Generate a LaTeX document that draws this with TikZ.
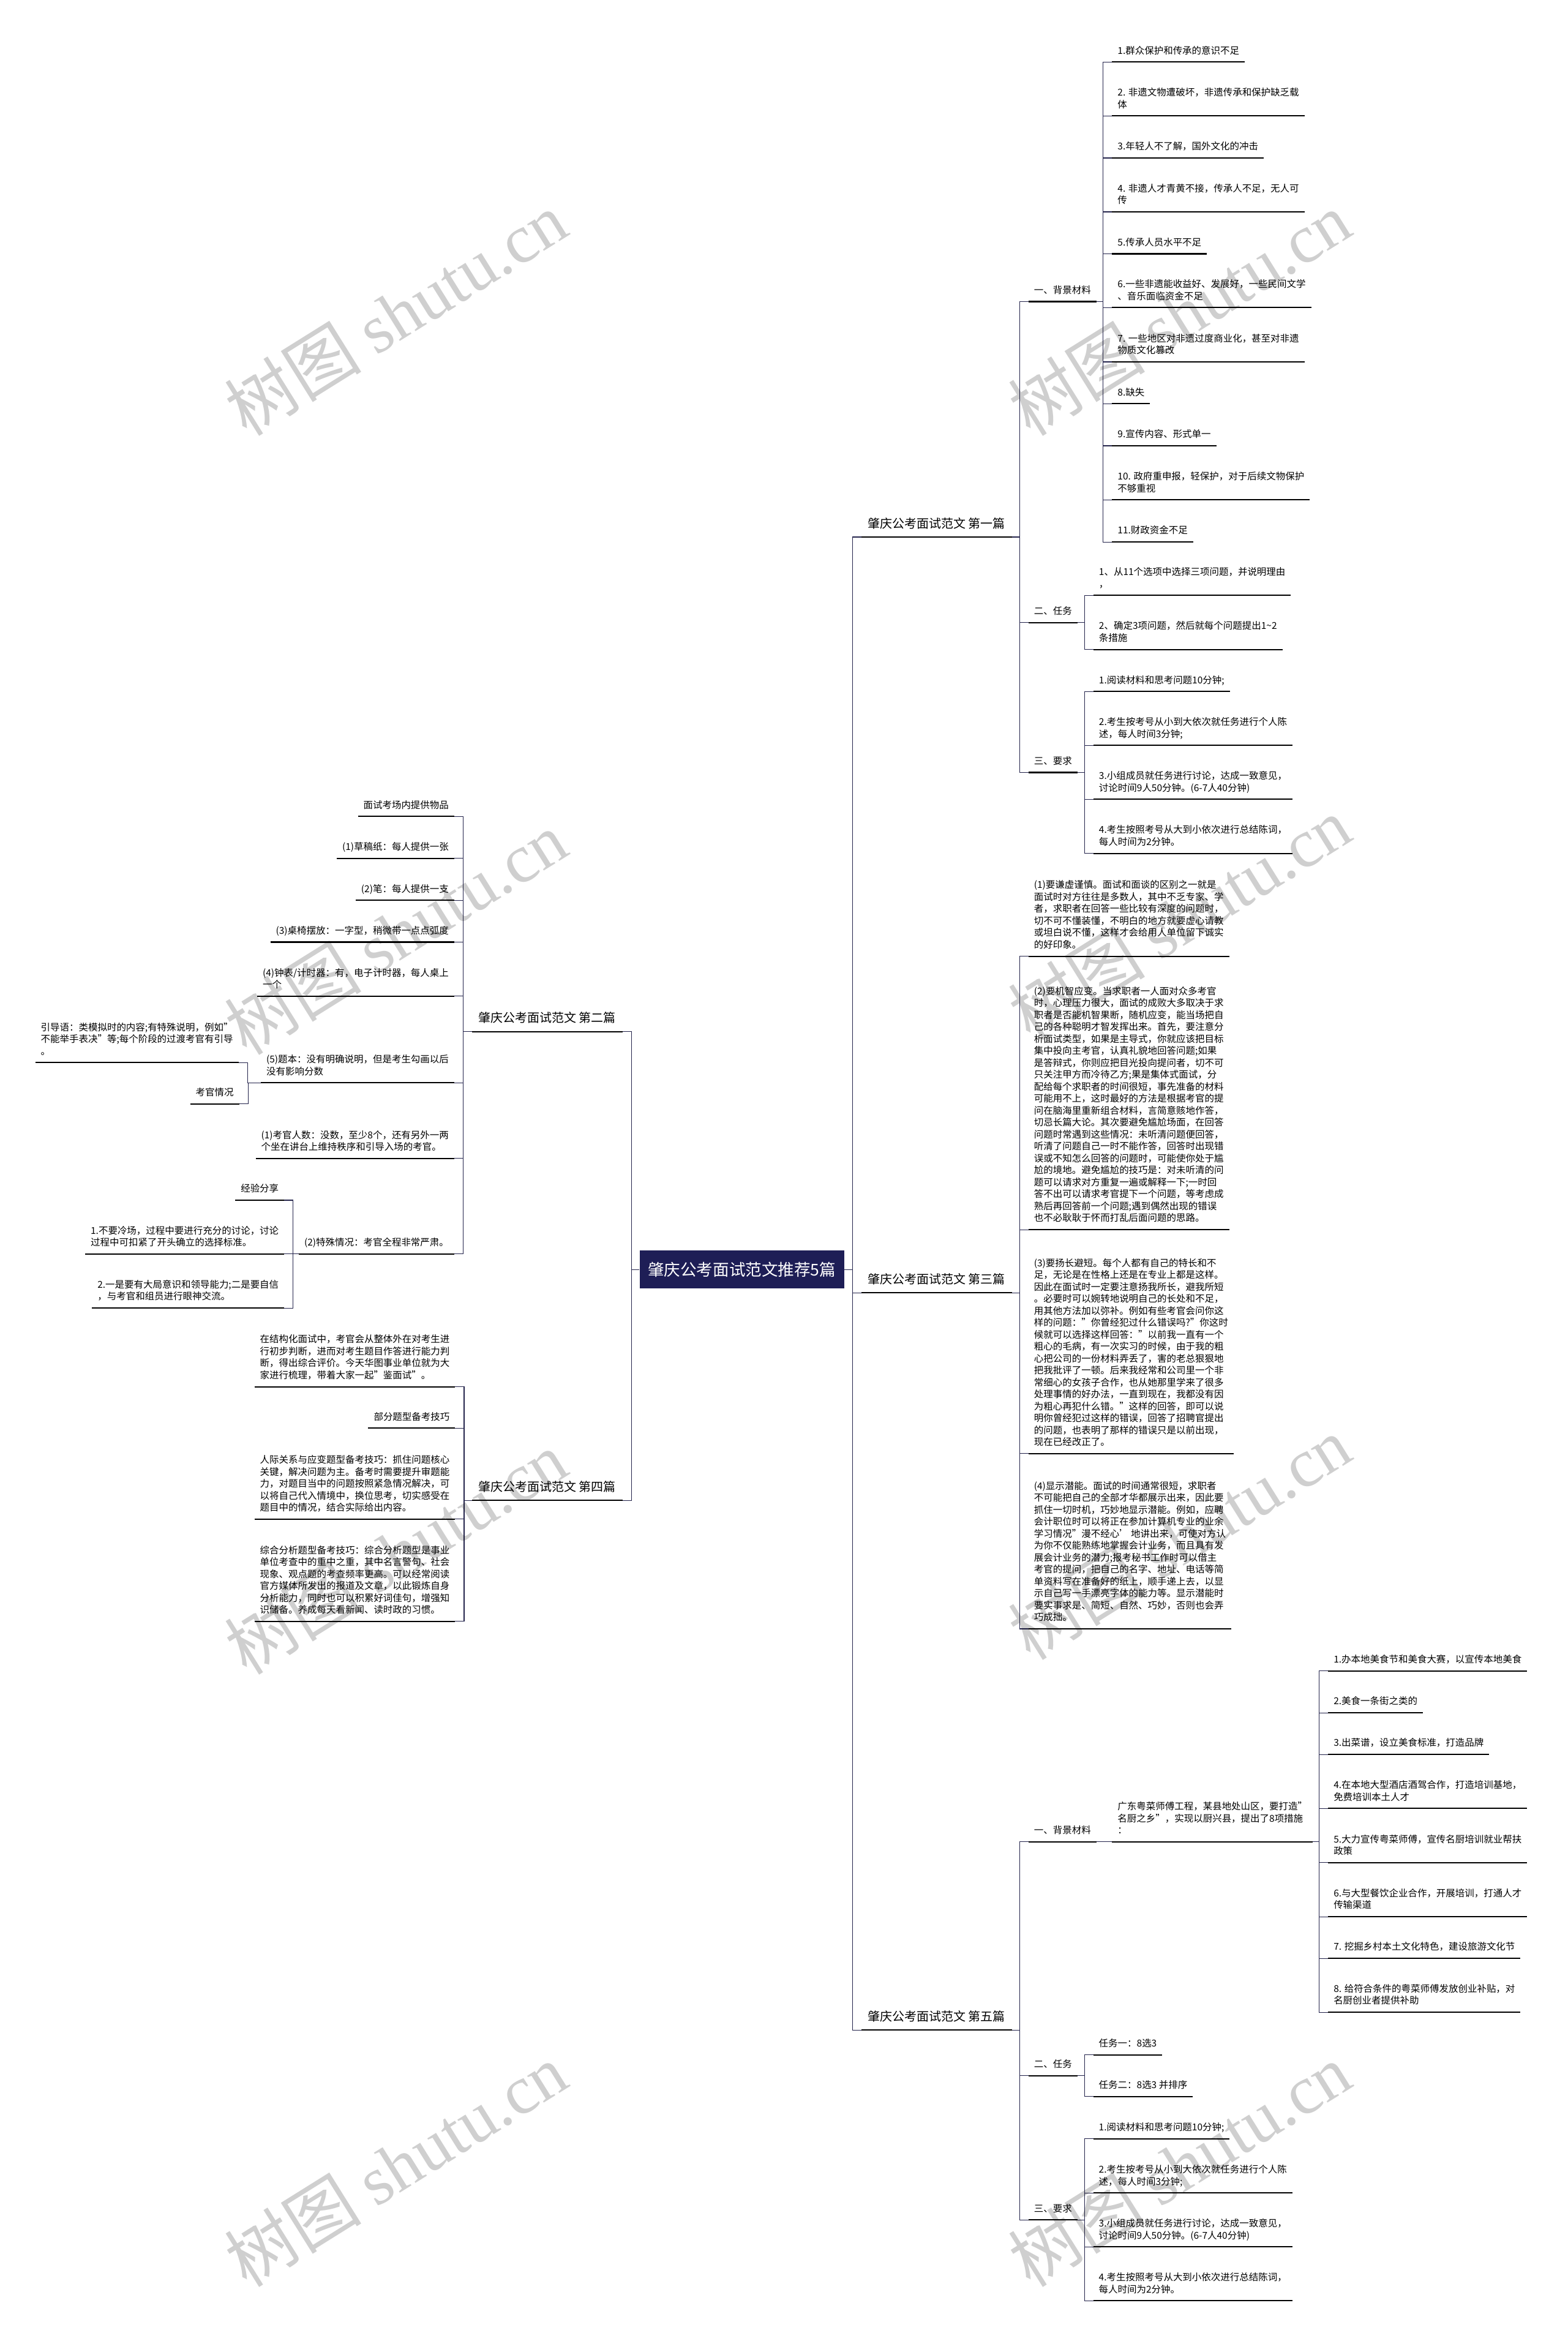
\documentclass[tikz,border=0pt]{standalone}
\usepackage{fontspec}
\setmainfont{Noto Sans CJK SC}
\newfontfamily\wmserif{Liberation Serif}
\newcommand\leaffont{\fontsize{6.35}{8}\selectfont}
\newcommand\headfont{\fontsize{8.2}{10}\selectfont}
\newcommand\rootfont{\fontsize{10.9}{13}\selectfont}
\newcommand\wmfont{\fontsize{46}{50}\selectfont}

\begin{document}
\begin{tikzpicture}[x=1pt,y=-1pt,
  uline/.style={draw=black,line width=0.85pt},
  ul/.style={append after command={(\tikzlastnode.south west) edge[uline] (\tikzlastnode.south east)}},
  link/.style={draw=linknavy,line width=0.45pt},
  leaf/.style={ul,font=\leaffont,align=left,inner xsep=3.5pt,inner ysep=2.8pt,execute at end node=\strut},
  rleaf/.style={leaf,anchor=south west},
  lleaf/.style={leaf,anchor=south east},
  head/.style={ul,font=\headfont,inner xsep=4.2pt,inner ysep=2.9pt,execute at end node=\strut},
  rootbox/.style={fill=rootnavy,text=white,font=\rootfont,minimum width=137pt,minimum height=25.4pt,inner sep=0pt},
  wmark/.style={font=\wmfont,text=black,text opacity=0.19,rotate=32,inner sep=0pt}]
  \definecolor{rootnavy}{RGB}{30,30,86}
  \definecolor{linknavy}{RGB}{35,35,75}
  %% canvas in the shrunk reference's pixels, y pointing down
  \fill[white] (0,0) rectangle (1050,1568);
  \useasboundingbox (0,0) rectangle (1050,1568);

  \node[rootbox] (root) at (497,850.3) {肇庆公考面试范文推荐5篇};

  %% the five articles
  \node[head,anchor=south west] (s1) at (577,359.7) {肇庆公考面试范文 第一篇};
  \node[head,anchor=south east] (s2) at (417,691) {肇庆公考面试范文 第二篇};
  \node[head,anchor=south west] (s3) at (577,866) {肇庆公考面试范文 第三篇};
  \node[head,anchor=south east] (s4) at (417,1005) {肇庆公考面试范文 第四篇};
  \node[head,anchor=south west] (s5) at (577,1359.8) {肇庆公考面试范文 第五篇};

  %% first article
  \node[rleaf] (s1a) at (689,202) {一、背景材料};
  \node[rleaf] (s1b) at (689,417) {二、任务};
  \node[rleaf] (s1c) at (689,517.4) {三、要求};
  \node[rleaf] (s1a1) at (745,41.5) {1.群众保护和传承的意识不足};
  \node[rleaf] (s1a2) at (745,77.6) {2. 非遗文物遭破坏，非遗传承和保护缺乏载\\体};
  \node[rleaf] (s1a3) at (745,105.8) {3.年轻人不了解，国外文化的冲击};
  \node[rleaf] (s1a4) at (745,141.9) {4. 非遗人才青黄不接，传承人不足，无人可\\传};
  \node[rleaf] (s1a5) at (745,170) {5.传承人员水平不足};
  \node[rleaf] (s1a6) at (745,206) {6.一些非遗能收益好、发展好，一些民间文学\\、音乐面临资金不足};
  \node[rleaf] (s1a7) at (745,242.4) {7. 一些地区对非遗过度商业化，甚至对非遗\\物质文化篡改};
  \node[rleaf] (s1a8) at (745,270.4) {8.缺失};
  \node[rleaf] (s1a9) at (745,298.6) {9.宣传内容、形式单一};
  \node[rleaf] (s1a10) at (745,334.8) {10. 政府重申报，轻保护，对于后续文物保护\\不够重视};
  \node[rleaf] (s1a11) at (745,363) {11.财政资金不足};
  \node[rleaf] (s1b1) at (732.5,398.8) {1、从11个选项中选择三项问题，并说明理由\\，};
  \node[rleaf] (s1b2) at (732.5,435) {2、确定3项问题，然后就每个问题提出1\textasciitilde2\\条措施};
  \node[rleaf] (s1c1) at (732.5,463.2) {1.阅读材料和思考问题10分钟;};
  \node[rleaf] (s1c2) at (732.5,499.3) {2.考生按考号从小到大依次就任务进行个人陈\\述，每人时间3分钟;};
  \node[rleaf] (s1c3) at (732.5,535.4) {3.小组成员就任务进行讨论，达成一致意见，\\讨论时间9人50分钟。(6-7人40分钟)};
  \node[rleaf] (s1c4) at (732.5,571.6) {4.考生按照考号从大到小依次进行总结陈词，\\每人时间为2分钟。};

  %% third article: four long paragraphs
  \node[rleaf] (s3p1) at (689,640.5) {(1)要谦虚谨慎。面试和面谈的区别之一就是\\面试时对方往往是多数人，其中不乏专家、学\\者，求职者在回答一些比较有深度的问题时，\\切不可不懂装懂，不明白的地方就要虚心请教\\或坦白说不懂，这样才会给用人单位留下诚实\\的好印象。};
  \node[rleaf] (s3p2) at (689,823.6) {(2)要机智应变。当求职者一人面对众多考官\\时，心理压力很大，面试的成败大多取决于求\\职者是否能机智果断，随机应变，能当场把自\\己的各种聪明才智发挥出来。首先，要注意分\\析面试类型，如果是主导式，你就应该把目标\\集中投向主考官，认真礼貌地回答问题;如果\\是答辩式，你则应把目光投向提问者，切不可\\只关注甲方而冷待乙方;果是集体式面试，分\\配给每个求职者的时间很短，事先准备的材料\\可能用不上，这时最好的方法是根据考官的提\\问在脑海里重新组合材料，言简意赅地作答，\\切忌长篇大论。其次要避免尴尬场面，在回答\\问题时常遇到这些情况：未听清问题便回答，\\听清了问题自己一时不能作答，回答时出现错\\误或不知怎么回答的问题时，可能使你处于尴\\尬的境地。避免尴尬的技巧是：对未听清的问\\题可以请求对方重复一遍或解释一下;一时回\\答不出可以请求考官提下一个问题，等考虑成\\熟后再回答前一个问题;遇到偶然出现的错误\\也不必耿耿于怀而打乱后面问题的思路。};
  \node[rleaf] (s3p3) at (689,973.6) {(3)要扬长避短。每个人都有自己的特长和不\\足，无论是在性格上还是在专业上都是这样。\\因此在面试时一定要注意扬我所长，避我所短\\。必要时可以婉转地说明自己的长处和不足，\\用其他方法加以弥补。例如有些考官会问你这\\样的问题："你曾经犯过什么错误吗?"你这时\\候就可以选择这样回答："以前我一直有一个\\粗心的毛病，有一次实习的时候，由于我的粗\\心把公司的一份材料弄丢了，害的老总狠狠地\\把我批评了一顿。后来我经常和公司里一个非\\常细心的女孩子合作，也从她那里学来了很多\\处理事情的好办法，一直到现在，我都没有因\\为粗心再犯什么错。"这样的回答，即可以说\\明你曾经犯过这样的错误，回答了招聘官提出\\的问题，也表明了那样的错误只是以前出现，\\现在已经改正了。};
  \node[rleaf] (s3p4) at (689,1091) {(4)显示潜能。面试的时间通常很短，求职者\\不可能把自己的全部才华都展示出来，因此要\\抓住一切时机，巧妙地显示潜能。例如，应聘\\会计职位时可以将正在参加计算机专业的业余\\学习情况"漫不经心' 地讲出来，可使对方认\\为你不仅能熟练地掌握会计业务，而且具有发\\展会计业务的潜力;报考秘书工作时可以借主\\考官的提问，把自己的名字、地址、电话等简\\单资料写在准备好的纸上，顺手递上去，以显\\示自己写一手漂亮字体的能力等。显示潜能时\\要实事求是、简短、自然、巧妙，否则也会弄\\巧成拙。};

  %% fifth article
  \node[rleaf] (s5a) at (689,1233.6) {一、背景材料};
  \node[rleaf] (s5b) at (689,1390.3) {二、任务};
  \node[rleaf] (s5c) at (689,1486.9) {三、要求};
  \node[rleaf] (s5a0) at (745,1233.6) {广东粤菜师傅工程，某县地处山区，要打造"\\名厨之乡"，实现以厨兴县，提出了8项措施\\：};
  \node[rleaf] (s5m1) at (889.7,1119.2) {1.办本地美食节和美食大赛，以宣传本地美食};
  \node[rleaf] (s5m2) at (889.7,1147.2) {2.美食一条街之类的};
  \node[rleaf] (s5m3) at (889.7,1175.1) {3.出菜谱，设立美食标准，打造品牌};
  \node[rleaf] (s5m4) at (889.7,1211.3) {4.在本地大型酒店酒驾合作，打造培训基地，\\免费培训本土人才};
  \node[rleaf] (s5m5) at (889.7,1247.6) {5.大力宣传粤菜师傅，宣传名厨培训就业帮扶\\政策};
  \node[rleaf] (s5m6) at (889.7,1283.8) {6.与大型餐饮企业合作，开展培训，打通人才\\传输渠道};
  \node[rleaf] (s5m7) at (889.7,1311.7) {7. 挖掘乡村本土文化特色，建设旅游文化节};
  \node[rleaf] (s5m8) at (889.7,1347.8) {8. 给符合条件的粤菜师傅发放创业补贴，对\\名厨创业者提供补助};
  \node[rleaf] (s5b1) at (732.4,1376.4) {任务一：8选3};
  \node[rleaf] (s5b2) at (732.4,1404.3) {任务二：8选3 并排序};
  \node[rleaf] (s5c1) at (732.4,1432.5) {1.阅读材料和思考问题10分钟;};
  \node[rleaf] (s5c2) at (732.4,1468.9) {2.考生按考号从小到大依次就任务进行个人陈\\述，每人时间3分钟;};
  \node[rleaf] (s5c3) at (732.4,1505) {3.小组成员就任务进行讨论，达成一致意见，\\讨论时间9人50分钟。(6-7人40分钟)};
  \node[rleaf] (s5c4) at (732.4,1541) {4.考生按照考号从大到小依次进行总结陈词，\\每人时间为2分钟。};

  %% second article (left side)
  \node[lleaf] (s2a) at (304.3,546.9) {面试考场内提供物品};
  \node[lleaf] (s2b) at (304.3,574.9) {(1)草稿纸：每人提供一张};
  \node[lleaf] (s2c) at (304.3,603.1) {(2)笔：每人提供一支};
  \node[lleaf] (s2d) at (304.3,631) {(3)桌椅摆放：一字型，稍微带一点点弧度};
  \node[lleaf] (s2e) at (304.3,667.2) {(4)钟表/计时器：有，电子计时器，每人桌上\\一个};
  \node[lleaf] (s2f) at (304.3,725.3) {(5)题本：没有明确说明，但是考生勾画以后\\没有影响分数};
  \node[lleaf] (s2g) at (304.3,775.9) {(1)考官人数：没数，至少8个，还有另外一两\\个坐在讲台上维持秩序和引导入场的考官。};
  \node[lleaf] (s2h) at (304.3,839.9) {(2)特殊情况：考官全程非常严肃。};
  \node[lleaf] (s2f1) at (159.8,711.7) {引导语：类模拟时的内容;有特殊说明，例如"\\不能举手表决"等;每个阶段的过渡考官有引导\\。};
  \node[lleaf] (s2f2) at (160.2,739.4) {考官情况};
  \node[lleaf] (s2h1) at (190.4,803.9) {经验分享};
  \node[lleaf] (s2h2) at (190.4,839.9) {1.不要冷场，过程中要进行充分的讨论，讨论\\过程中可扣紧了开头确立的选择标准。};
  \node[lleaf] (s2h3) at (190.4,876.1) {2.一是要有大局意识和领导能力;二是要自信\\，与考官和组员进行眼神交流。};

  %% fourth article (left side)
  \node[lleaf] (s4a) at (304.9,928.8) {在结构化面试中，考官会从整体外在对考生进\\行初步判断，进而对考生题目作答进行能力判\\断，得出综合评价。今天华图事业单位就为大\\家进行梳理，带着大家一起"鉴面试"。};
  \node[lleaf] (s4b) at (304.9,956.6) {部分题型备考技巧};
  \node[lleaf] (s4c) at (304.9,1017.5) {人际关系与应变题型备考技巧：抓住问题核心\\关键，解决问题为主。备考时需要提升审题能\\力，对题目当中的问题按照紧急情况解决，可\\以将自己代入情境中，换位思考，切实感受在\\题目中的情况，结合实际给出内容。};
  \node[lleaf] (s4d) at (304.9,1086) {综合分析题型备考技巧：综合分析题型是事业\\单位考查中的重中之重，其中名言警句、社会\\现象、观点题的考查频率更高。可以经常阅读\\官方媒体所发出的报道及文章，以此锻炼自身\\分析能力，同时也可以积累好词佳句，增强知\\识储备。养成每天看新闻、读时政的习惯。};

  %% elbow connectors: parent underline end -> bus -> child underline start
  \foreach \s in {s1,s3,s5}
    \draw[link] (root.east) -| ([xshift=-6pt]\s.south west) -- (\s.south west);
  \foreach \s in {s2,s4}
    \draw[link] (root.west) -| ([xshift=6pt]\s.south east) -- (\s.south east);
  \foreach \c in {s1a,s1b,s1c}
    \draw[link] (s1.south east) -| ([xshift=-6pt]\c.south west) -- (\c.south west);
  \foreach \i in {1,...,11}
    \draw[link] (s1a.south east) -| ([xshift=-6pt]s1a\i.south west) -- (s1a\i.south west);
  \foreach \i in {1,2}
    \draw[link] (s1b.south east) -| ([xshift=-6pt]s1b\i.south west) -- (s1b\i.south west);
  \foreach \i in {1,...,4}
    \draw[link] (s1c.south east) -| ([xshift=-6pt]s1c\i.south west) -- (s1c\i.south west);
  \foreach \i in {1,...,4}
    \draw[link] (s3.south east) -| ([xshift=-6pt]s3p\i.south west) -- (s3p\i.south west);
  \foreach \c in {s5a,s5b,s5c}
    \draw[link] (s5.south east) -| ([xshift=-6pt]\c.south west) -- (\c.south west);
  \draw[link] (s5a.south east) -- (s5a0.south west);
  \foreach \i in {1,...,8}
    \draw[link] (s5a0.south east) -| ([xshift=-6pt]s5m\i.south west) -- (s5m\i.south west);
  \foreach \i in {1,2}
    \draw[link] (s5b.south east) -| ([xshift=-6pt]s5b\i.south west) -- (s5b\i.south west);
  \foreach \i in {1,...,4}
    \draw[link] (s5c.south east) -| ([xshift=-6pt]s5c\i.south west) -- (s5c\i.south west);
  \foreach \c in {s2a,s2b,s2c,s2d,s2e,s2f,s2g,s2h}
    \draw[link] (s2.south west) -| ([xshift=6pt]\c.south east) -- (\c.south east);
  \foreach \i in {1,2}
    \draw[link] (s2f.south west) -| ([xshift=6pt]s2f\i.south east) -- (s2f\i.south east);
  \foreach \i in {1,2,3}
    \draw[link] (s2h.south west) -| ([xshift=6pt]s2h\i.south east) -- (s2h\i.south east);
  \foreach \c in {s4a,s4b,s4c,s4d}
    \draw[link] (s4.south west) -| ([xshift=6pt]\c.south east) -- (\c.south east);

  %% watermark grid
  \node[wmark] (wm1) at (265,210) {树图 {\wmserif shutu.cn}};
  \node[wmark] (wm2) at (790,210) {树图 {\wmserif shutu.cn}};
  \node[wmark] (wm3) at (265,625) {树图 {\wmserif shutu.cn}};
  \node[wmark] (wm4) at (790,615) {树图 {\wmserif shutu.cn}};
  \node[wmark] (wm5) at (265,1040) {树图 {\wmserif shutu.cn}};
  \node[wmark] (wm6) at (790,1030) {树图 {\wmserif shutu.cn}};
  \node[wmark] (wm7) at (265,1450) {树图 {\wmserif shutu.cn}};
  \node[wmark] (wm8) at (790,1450) {树图 {\wmserif shutu.cn}};
\end{tikzpicture}
\end{document}
